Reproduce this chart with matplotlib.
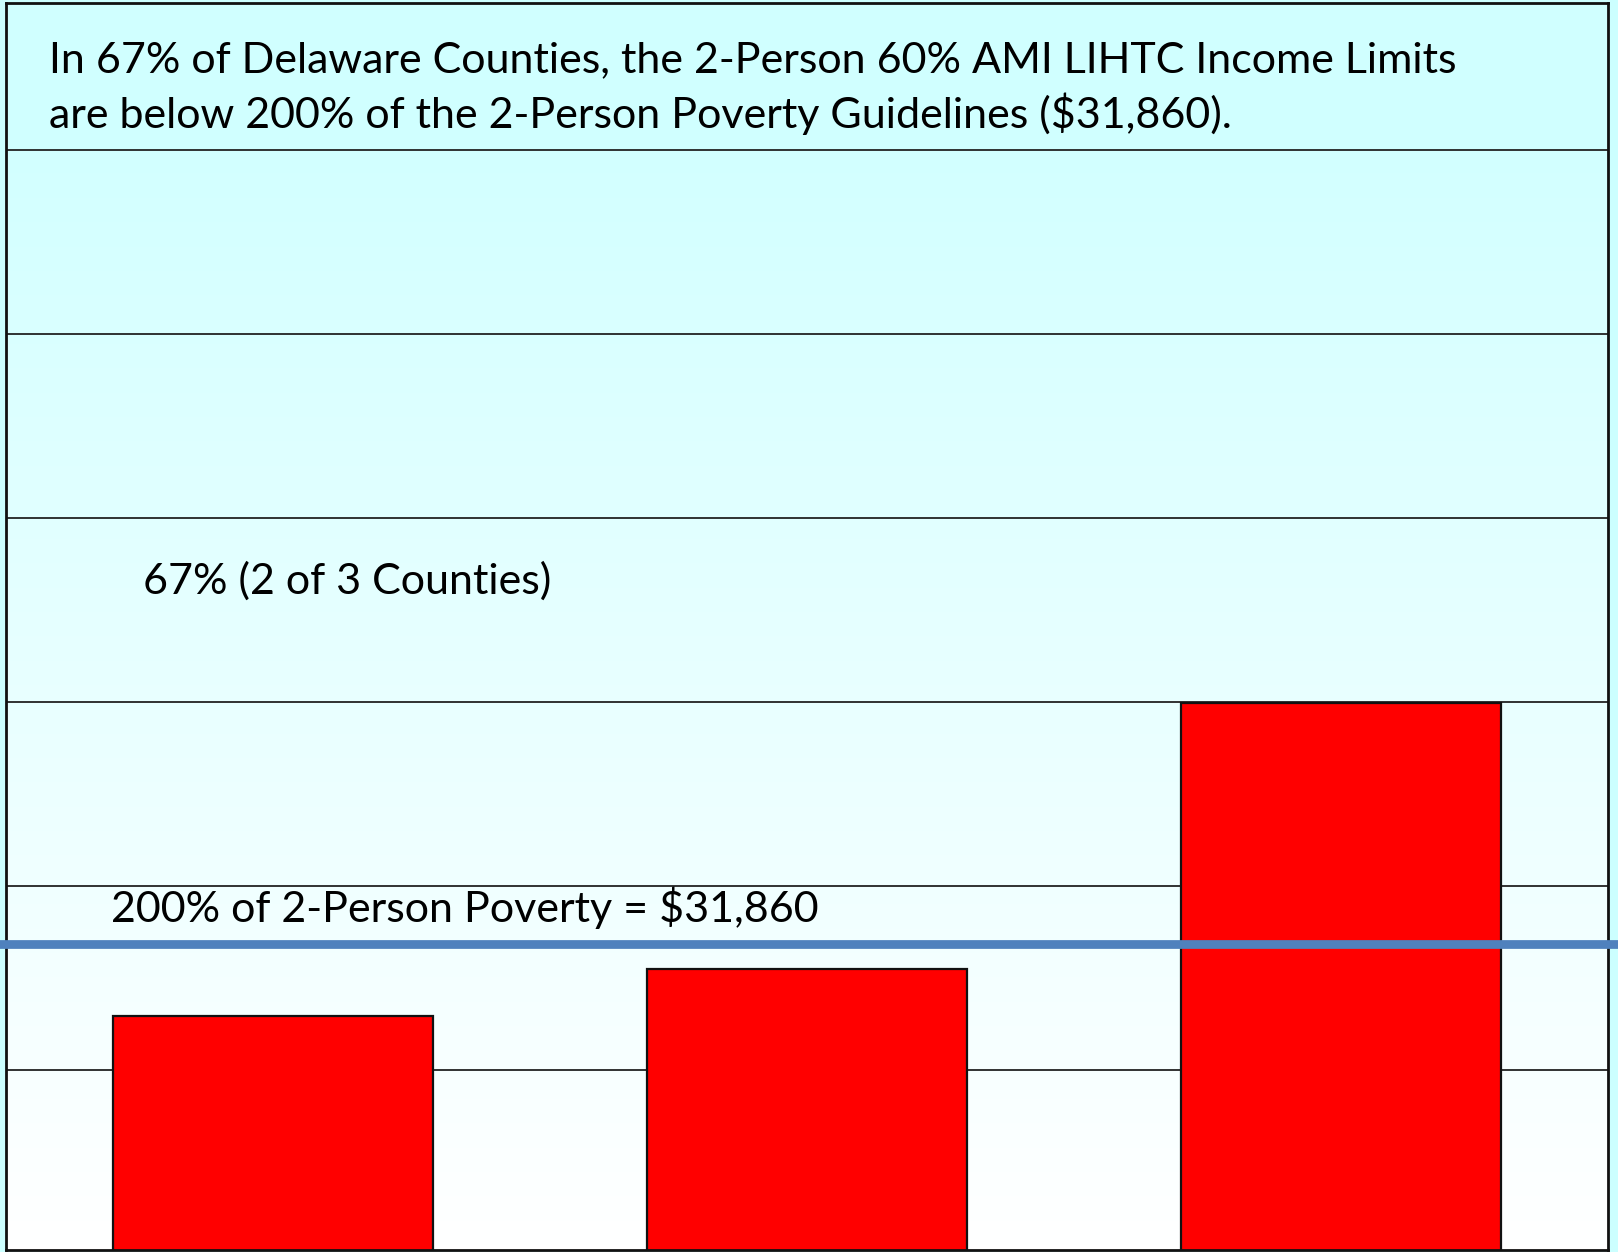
import numpy as np
import matplotlib
matplotlib.use("Agg")
import matplotlib.pyplot as plt
from matplotlib.transforms import blended_transform_factory
from matplotlib.patches import Rectangle

# ---- data ----
counties = ["Kent", "Sussex", "New Castle"]
income_limits = [27900, 30500, 44950]
poverty_200 = 31860
grid_values = [25000, 35000, 45000, 55000, 65000, 75000]
title_lines = ["In 67% of Delaware Counties, the 2-Person 60% AMI LIHTC Income Limits",
               "are below 200% of the 2-Person Poverty Guidelines ($31,860)."]
share_label = "67% (2 of 3 Counties)"
line_label = "200% of 2-Person Poverty = $31,860"

plt.rcParams['font.family'] = ['Lato', 'DejaVu Sans']

W, H = 1618, 1252
fig = plt.figure(figsize=(W / 100, H / 100), dpi=100, facecolor="#CCFFFF")
ax = fig.add_axes([6 / W, 2 / H, 1602 / W, 1247 / H])

ymin, ymax = 15200, 83000
ax.set_xlim(-0.5, 2.5)
ax.set_ylim(ymin, ymax)

# gradient background
grad = np.linspace(0, 1, 256).reshape(-1, 1)
top = np.array([0.80, 1.0, 1.0])
bot = np.array([1.0, 1.0, 1.0])
img = bot + (top - bot) * grad[:, :, None] * np.ones((1, 1, 3))
ax.imshow(img, extent=[-0.5, 2.5, ymin, ymax], origin="lower", aspect="auto", zorder=0)

# title box
ax.add_patch(Rectangle((-0.5, grid_values[-1]), 3.0, ymax - grid_values[-1],
                       facecolor="#D0FFFF", edgecolor="none", zorder=0.5))

for g in grid_values:
    ax.axhline(g, color="#222222", linewidth=1.3, zorder=1)

x = np.arange(len(counties))
ax.bar(x, income_limits, width=0.6, bottom=0, color="#FF0000",
       edgecolor="#111111", linewidth=1.6, zorder=2)

tr = blended_transform_factory(fig.transFigure, ax.transData)
ax.plot([0, 1], [poverty_200, poverty_200], transform=tr, color="#4F81BD",
        linewidth=6.3, clip_on=False, zorder=3)

for s in ax.spines.values():
    s.set_linewidth(2)
    s.set_color("#111111")
ax.set_xticks([])
ax.set_yticks([])

fs = 31
fig.text(49 / W, 1 - 72 / H, title_lines[0], fontsize=fs, va="baseline", ha="left")
fig.text(49 / W, 1 - 128 / H, title_lines[1], fontsize=fs, va="baseline", ha="left")
fig.text(143 / W, 1 - 581 / H, share_label, fontsize=fs, va="center", ha="left")
fig.text(111 / W, 1 - 908 / H, line_label, fontsize=fs, va="center", ha="left")

fig.savefig("out.png", dpi=100, facecolor=fig.get_facecolor())
